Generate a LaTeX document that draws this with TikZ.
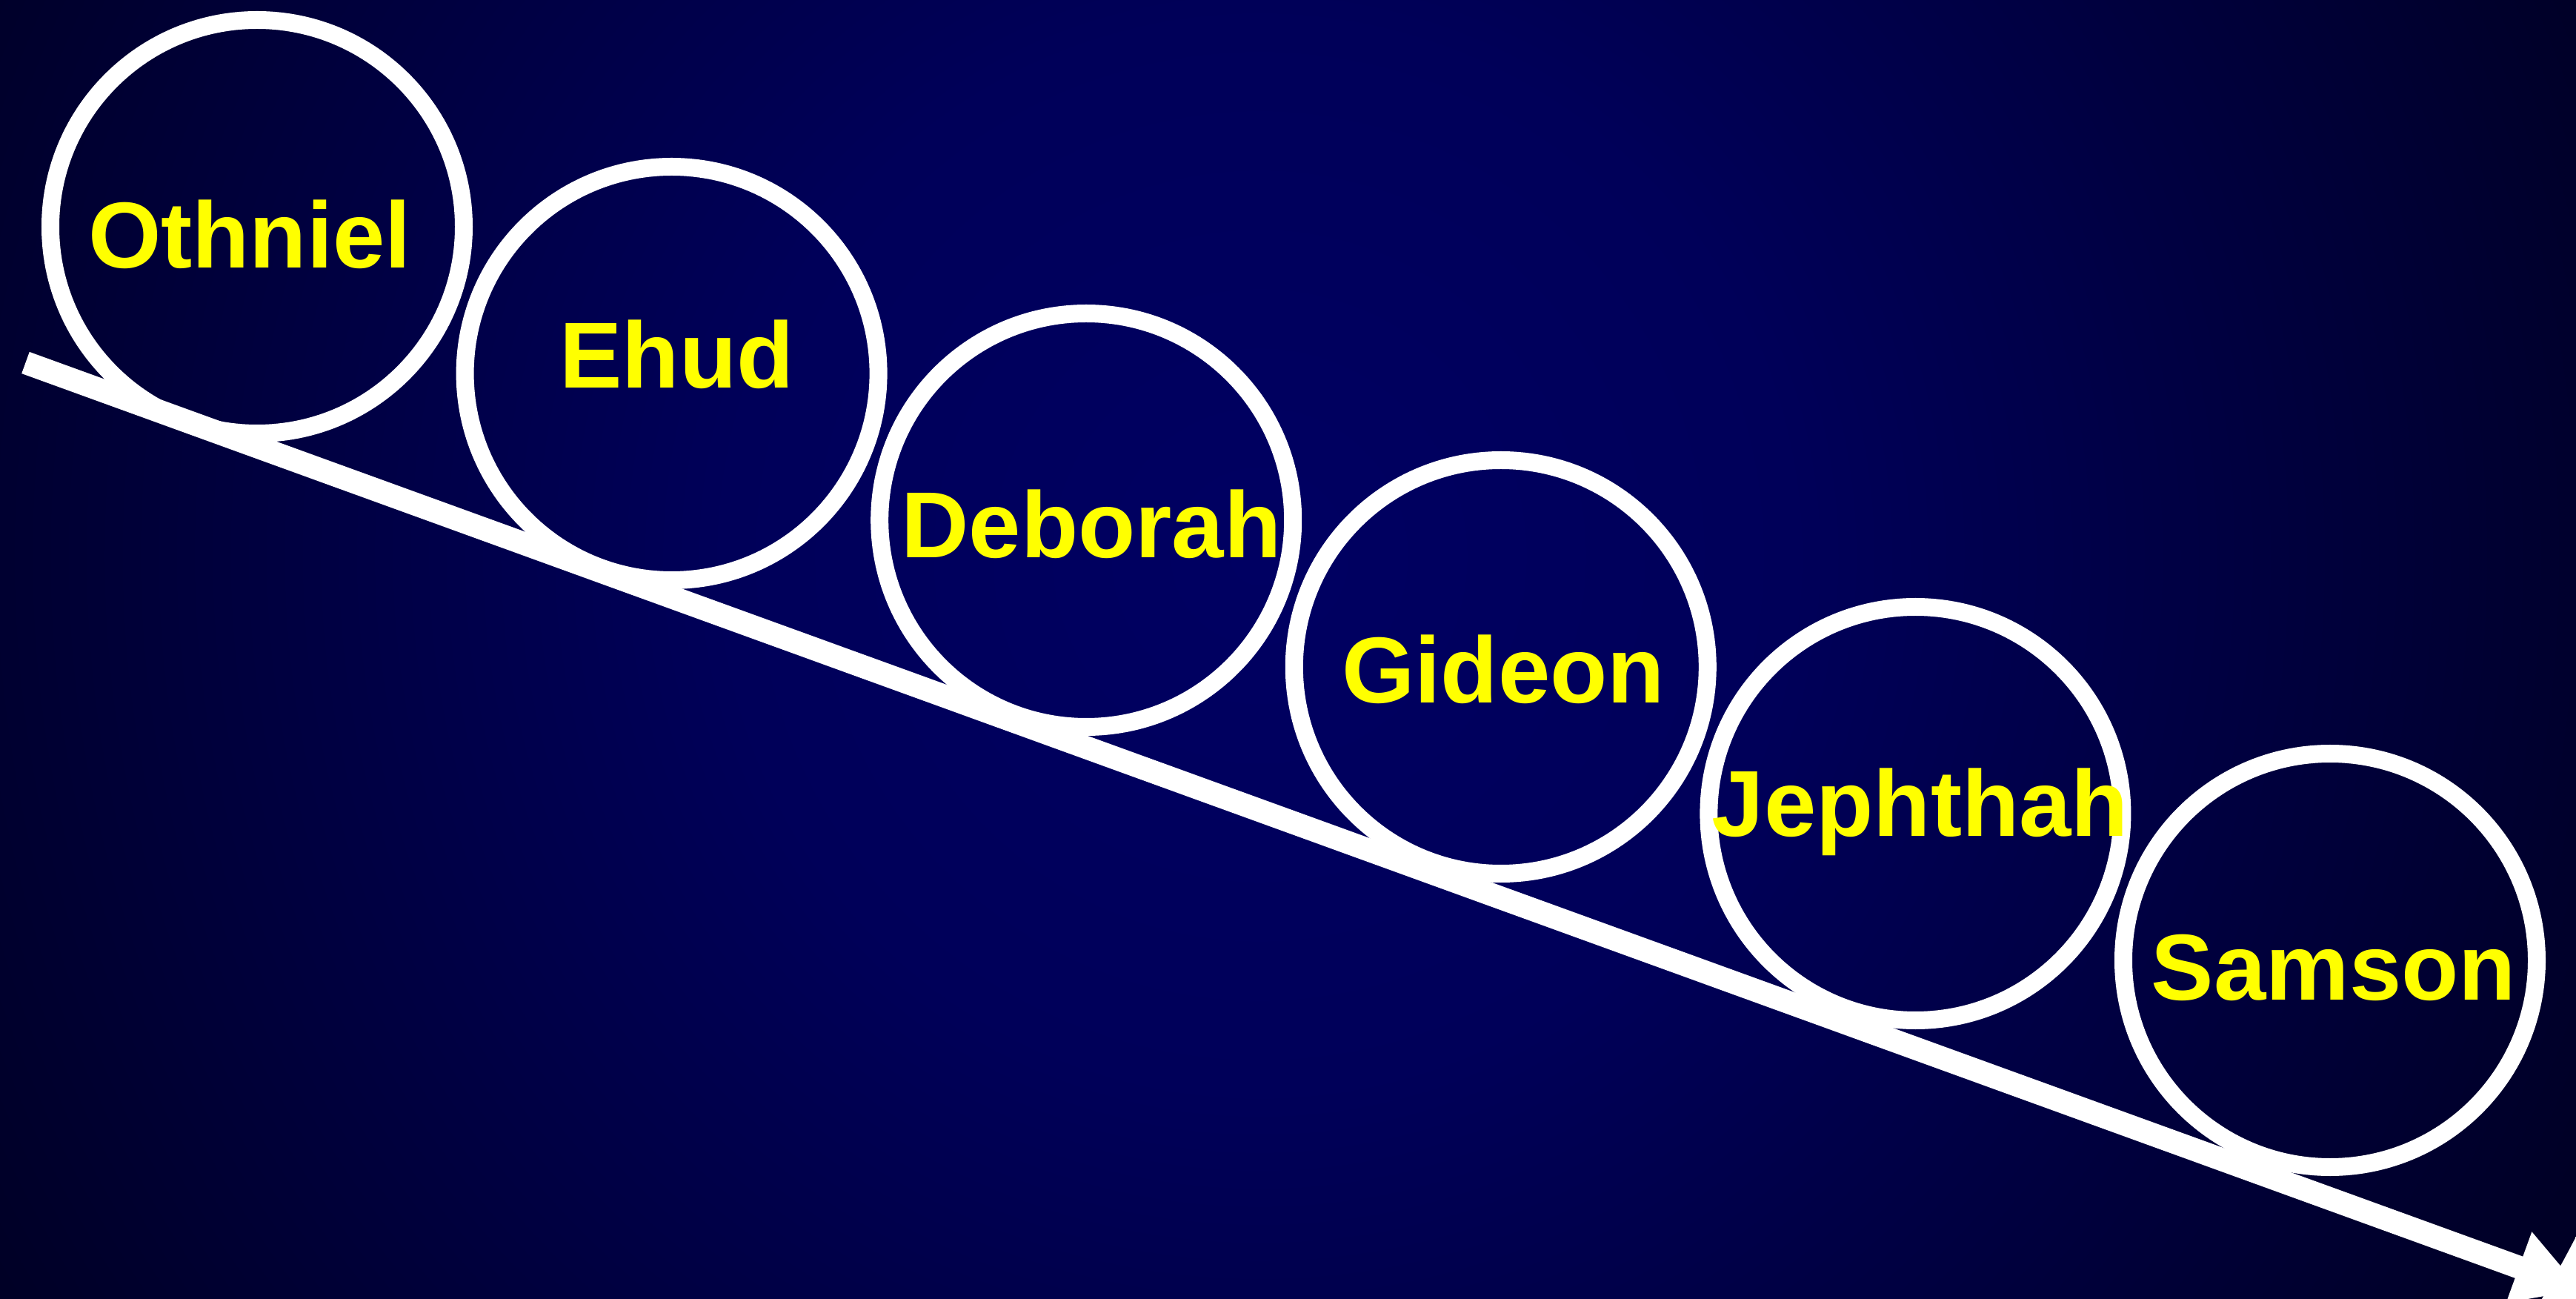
\documentclass[tikz,border=0pt]{standalone}
\usepackage{fontspec}
\setmainfont{Liberation Sans}
\usepackage{tikz}
\usetikzlibrary{arrows.meta}
\definecolor{glowin}{RGB}{0,0,98}
\definecolor{glowmid}{RGB}{0,0,89}
\definecolor{glowout}{RGB}{0,0,38}
\definecolor{judgeyellow}{RGB}{255,255,0}
\pgfdeclareradialshading{slideglow}{\pgfpointorigin}{color(0bp)=(glowin); color(9bp)=(glowmid); color(24.5bp)=(glowout); color(50bp)=(glowout)}

\begin{document}
\begin{tikzpicture}[
  judge/.style={circle,draw=white,line width=0.24cm,minimum size=5.58cm,inner sep=0pt},
  judgename/.style={text=judgeyellow,anchor=base,inner sep=0pt,font=\bfseries\fontsize{36}{43}\selectfont},
  timeline/.style={white,line width=0.31cm,-{Triangle[width=0.95cm,length=0.9cm]}}]
\useasboundingbox (0,0) rectangle (34.77,-17.53);
\begin{scope}
\clip (0,0) rectangle (34.77,-17.53);
\shade[shading=slideglow] (17.0,-7.5) circle (20cm);
\end{scope}
% the time arrow
\coordinate(start)at(0.345,-4.895);
\coordinate(tip)at(34.846,-17.409);
\draw[timeline](start)--(tip);
% circles
\node[judge](othniel)at(3.47,-3.06){};
\node[judge](ehud)at(9.066,-5.04){};
\node[judge](deborah)at(14.662,-7.02){};
\node[judge](gideon)at(20.258,-9.00){};
\node[judge](jephthah)at(25.854,-10.98){};
\node[judge](samson)at(31.45,-12.96){};
% names
\node[judgename](othnielname)at(3.37,-3.62){Othniel};
\node[judgename](ehudname)at(9.136,-5.24){Ehud};
\node[judgename](deborahname)at(14.73,-7.53){Deborah};
\node[judgename](gideonname)at(20.29,-9.485){Gideon};
\node[judgename](jephthahname)at(25.92,-11.29){Jephthah};
\node[judgename](samsonname)at(31.50,-13.49){Samson};
\end{tikzpicture}
\end{document}
